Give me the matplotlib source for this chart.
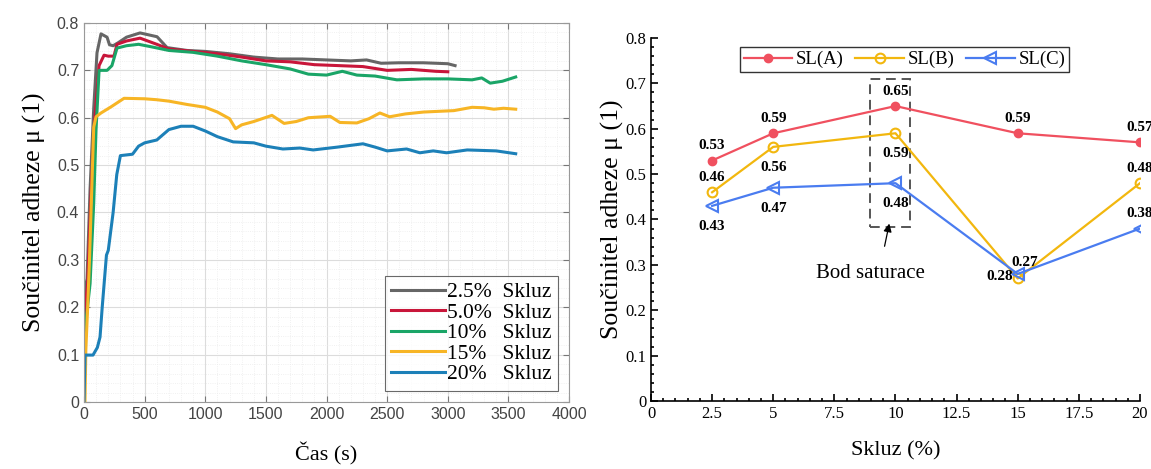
import matplotlib
matplotlib.use("Agg")
import matplotlib.pyplot as plt
from matplotlib.ticker import MultipleLocator

# left chart: adhesion coefficient vs time
t_25 = [0, 10, 25, 50, 80, 107, 140, 190, 210, 240, 280, 350, 462, 602, 685, 850, 1000, 1200, 1400,
        1600, 1800, 2000, 2200, 2330, 2450, 2600, 2800, 3000, 3060]
mu_25 = [0.2, 0.24, 0.26, 0.45, 0.62, 0.737, 0.777, 0.77, 0.754, 0.752, 0.758, 0.77, 0.779, 0.771, 0.748,
         0.742, 0.74, 0.735, 0.728, 0.724, 0.724, 0.722, 0.72, 0.722, 0.715, 0.716, 0.716, 0.714, 0.71]

t_50 = [0, 10, 30, 60, 90, 124, 165, 200, 247, 272, 350, 462, 600, 700, 900, 1100, 1300, 1500, 1700,
        1900, 2100, 2300, 2500, 2700, 2900, 3000]
mu_50 = [0.17, 0.2, 0.25, 0.45, 0.6, 0.71, 0.732, 0.73, 0.73, 0.755, 0.762, 0.768, 0.755, 0.745, 0.74,
         0.735, 0.728, 0.72, 0.718, 0.712, 0.71, 0.708, 0.7, 0.702, 0.698, 0.697]

t_10 = [0, 20, 50, 80, 99, 124, 160, 190, 230, 272, 350, 450, 550, 700, 900, 1100, 1300, 1500, 1700,
        1850, 2000, 2130, 2250, 2400, 2580, 2800, 3000, 3200, 3280, 3350, 3450, 3560]
mu_10 = [0.14, 0.18, 0.25, 0.42, 0.574, 0.70, 0.70, 0.70, 0.71, 0.747, 0.752, 0.755, 0.75, 0.742, 0.738,
         0.73, 0.72, 0.712, 0.703, 0.692, 0.69, 0.698, 0.69, 0.688, 0.68, 0.682, 0.682, 0.68, 0.684,
         0.673, 0.677, 0.686]

t_15 = [0, 8, 15, 30, 45, 80, 99, 140, 223, 330, 500, 600, 700, 850, 1000, 1100, 1200, 1250, 1300, 1400,
        1550, 1650, 1750, 1850, 2030, 2110, 2250, 2350, 2440, 2520, 2650, 2800, 3050, 3200, 3300, 3380,
        3460, 3560]
mu_15 = [0.0, 0.0, 0.11, 0.2, 0.3, 0.58, 0.602, 0.61, 0.623, 0.641, 0.64, 0.638, 0.635, 0.628, 0.622,
         0.612, 0.598, 0.577, 0.585, 0.592, 0.605, 0.588, 0.592, 0.6, 0.603, 0.59, 0.589, 0.598, 0.61,
         0.602, 0.608, 0.612, 0.615, 0.622, 0.621, 0.618, 0.62, 0.618]

t_20 = [0, 8, 74, 110, 132, 150, 185, 200, 240, 270, 300, 400, 450, 500, 600, 700, 800, 900, 1000, 1100,
        1230, 1400, 1500, 1640, 1780, 1890, 2090, 2300, 2400, 2500, 2660, 2770, 2880, 2990, 3160, 3400,
        3560]
mu_20 = [0.0, 0.099, 0.099, 0.115, 0.137, 0.2, 0.31, 0.32, 0.4, 0.48, 0.52, 0.523, 0.54, 0.547, 0.553,
         0.575, 0.582, 0.582, 0.572, 0.56, 0.549, 0.547, 0.54, 0.534, 0.536, 0.532, 0.538, 0.545, 0.538,
         0.53, 0.534, 0.526, 0.53, 0.526, 0.532, 0.53, 0.524]

left_labels = ['2.5%  Skluz', '5.0%  Skluz', '10%   Skluz', '15%   Skluz', '20%   Skluz']
left_colors = ['#666666', '#c8163a', '#1aa567', '#f7b525', '#1c80b8']

# right chart: adhesion vs slip
skluz = [2.5, 5, 10, 15, 20]
sl_a = [0.53, 0.59, 0.65, 0.59, 0.57]
sl_b = [0.46, 0.56, 0.59, 0.27, 0.48]
sl_c = [0.43, 0.47, 0.48, 0.28, 0.38]

fig = plt.figure(figsize=(11.51, 4.69), dpi=100)
serif = 'Liberation Serif'
sans = 'Liberation Sans'

# ---- left ----
ax = fig.add_axes([0.0730, 0.1429, 0.4214, 0.8081])
series = [(t_25, mu_25), (t_50, mu_50), (t_10, mu_10), (t_15, mu_15), (t_20, mu_20)]
for (tt, mm), lab, c in zip(series, left_labels, left_colors):
    ax.plot(tt, mm, color=c, lw=2.2, label=lab)
ax.set_xlim(0, 4000)
ax.set_ylim(0, 0.8)
ax.xaxis.set_minor_locator(MultipleLocator(100))
ax.yaxis.set_minor_locator(MultipleLocator(0.02))
ax.grid(True, which='major', color='#dcdcdc', lw=0.8)
ax.grid(True, which='minor', color='#ececec', lw=0.6, ls=':')
ax.set_axisbelow(True)
ax.tick_params(which='both', direction='in', top=True, right=True, colors='#777777',
               labelcolor='#444444', labelsize=11.5)
ax.tick_params(which='minor', length=0)
ax.tick_params(which='major', length=4)
ax.set_yticks([0, 0.1, 0.2, 0.3, 0.4, 0.5, 0.6, 0.7, 0.8])
ax.set_yticklabels(['0', '0.1', '0.2', '0.3', '0.4', '0.5', '0.6', '0.7', '0.8'], fontfamily=sans)
ax.set_xticks(range(0, 4001, 500))
ax.set_xticklabels([str(v) for v in range(0, 4001, 500)], fontfamily=sans)
for s in ax.spines.values():
    s.set_color('#999999')
    s.set_linewidth(0.8)
ax.set_xlabel('Čas (s)', fontfamily=serif, fontsize=16, labelpad=15)
ax.set_ylabel('Součinitel adheze μ (1)', fontfamily=serif, fontsize=18.5, labelpad=8)
leg = ax.legend(loc='lower right', bbox_to_anchor=(0.978, 0.03), prop={'family': serif, 'size': 15.5},
                frameon=True, fancybox=False, edgecolor='#444444', handlelength=2.5,
                handletextpad=0.1, labelspacing=0.02, borderpad=0.3, borderaxespad=0)
leg.get_frame().set_linewidth(0.8)

# ---- right ----
ax2 = fig.add_axes([0.5656, 0.1450, 0.4248, 0.7740])
ax2.plot(skluz, sl_a, color='#f0505f', lw=1.6, marker='o', ms=6, label='SL(A)')
ax2.plot(skluz, sl_b, color='#f2b70e', lw=1.6, marker='o', ms=7, mfc='none', mew=1.5, label='SL(B)')
ax2.plot(skluz, sl_c, color='#4a7cf0', lw=1.6, marker='<', ms=8, mfc='none', mew=1.5, label='SL(C)')
ax2.set_xlim(0, 20)
ax2.set_ylim(0, 0.8)
ax2.spines['top'].set_visible(False)
ax2.spines['right'].set_visible(False)
for s in ('left', 'bottom'):
    ax2.spines[s].set_linewidth(1.2)
ax2.xaxis.set_minor_locator(MultipleLocator(0.5))
ax2.yaxis.set_minor_locator(MultipleLocator(0.02))
ax2.tick_params(which='both', direction='in', width=1.2, labelsize=12)
ax2.tick_params(which='major', length=5)
ax2.tick_params(which='minor', length=2.5)
ax2.set_xticks([0, 2.5, 5, 7.5, 10, 12.5, 15, 17.5, 20])
ax2.set_xticklabels(['0', '2.5', '5', '7.5', '10', '12.5', '15', '17.5', '20'], fontfamily=serif)
ax2.set_yticks([0, 0.1, 0.2, 0.3, 0.4, 0.5, 0.6, 0.7, 0.8])
ax2.set_yticklabels(['0', '0.1', '0.2', '0.3', '0.4', '0.5', '0.6', '0.7', '0.8'], fontfamily=serif)
ax2.set_xlabel('Skluz (%)', fontfamily=serif, fontsize=16, labelpad=14)
ax2.set_ylabel('Součinitel adheze μ (1)', fontfamily=serif, fontsize=18.5, labelpad=1)

lab_kw = dict(fontfamily=serif, fontsize=11, fontweight='bold', ha='center', clip_on=False)
above = 0.033
below = -0.045
for x, y in zip(skluz, sl_a):
    ax2.text(x, y + above, f'{y:.2f}', va='center', **lab_kw)
b_off = [above, below, below, None, above]
for x, y, o in zip(skluz, sl_b, b_off):
    if o is not None:
        ax2.text(x, y + o, f'{y:.2f}', va='center', **lab_kw)
c_off = [below, below, below, None, above]
for x, y, o in zip(skluz, sl_c, c_off):
    if o is not None:
        ax2.text(x, y + o, f'{y:.2f}', va='center', **lab_kw)
ax2.text(15.3, 0.305, f'{sl_b[3]:.2f}', va='center', **lab_kw)
ax2.text(14.25, 0.275, f'{sl_c[3]:.2f}', va='center', **lab_kw)

ax2.add_patch(plt.Rectangle((8.96, 0.383), 1.64, 0.327, fill=False, ls=(0, (5, 3)),
                            lw=1.4, ec='#555555'))
ax2.annotate('', xy=(9.77, 0.397), xytext=(9.53, 0.335),
             arrowprops=dict(arrowstyle='-|>', color='black', lw=0.9, mutation_scale=12))
ax2.text(8.96, 0.28, 'Bod saturace', fontfamily=serif, fontsize=15, ha='center', va='center')

leg2 = ax2.legend(loc='upper left', bbox_to_anchor=(0.182, 0.975), ncol=3,
                  prop={'family': serif, 'size': 13.5}, frameon=True, fancybox=False,
                  edgecolor='black', handlelength=2.6, handletextpad=0.2, columnspacing=0.6,
                  borderpad=0.2, borderaxespad=0)
leg2.get_frame().set_linewidth(1.0)

fig.savefig('out.png', dpi=100)
